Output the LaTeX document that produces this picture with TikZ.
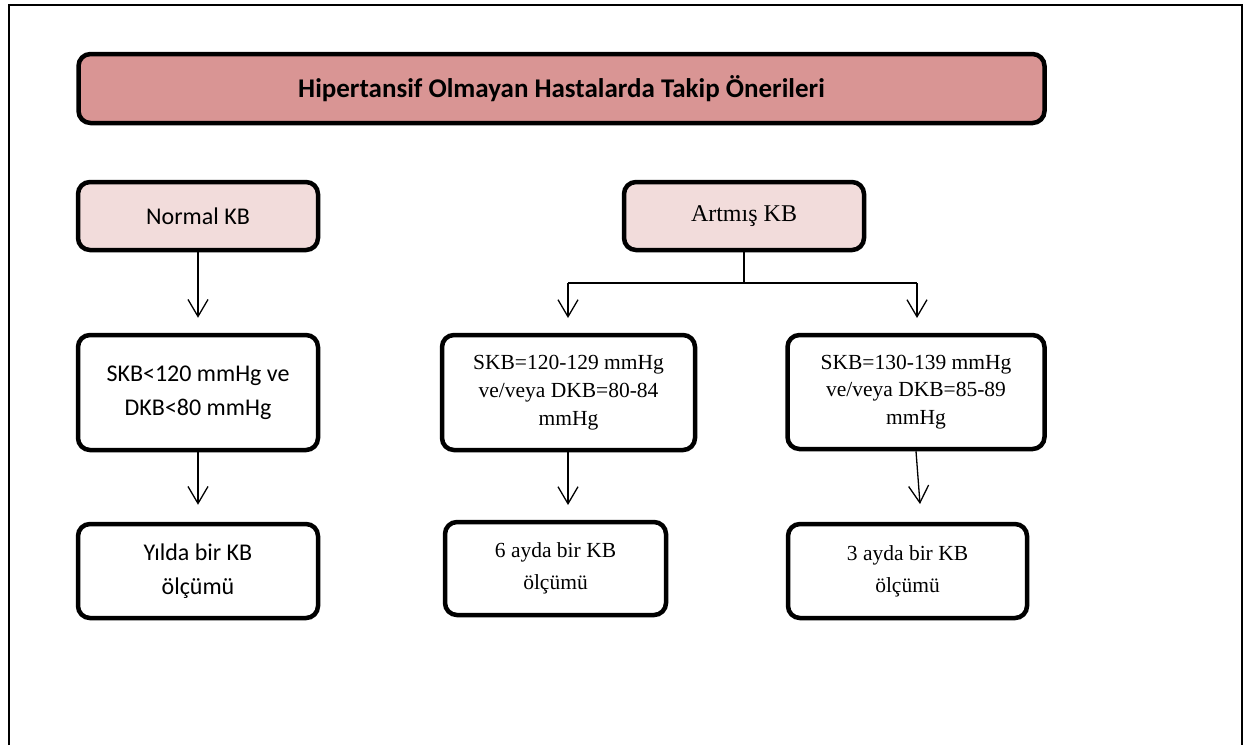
\documentclass[tikz,border=0pt]{standalone}
\usepackage{fontspec}
\setmainfont{Liberation Serif}
\newfontfamily\calfont{Carlito}
\usetikzlibrary{arrows.meta}
\definecolor{titlefill}{HTML}{D99594}
\definecolor{lightfill}{HTML}{F2DCDB}
\begin{document}
\begin{tikzpicture}[x=1pt,y=-1pt,
  box/.style={draw, line width=4.5pt, rounded corners=12pt, align=center, inner sep=0pt},
  cal/.style={font=\calfont\fontsize{24}{34}\selectfont},
  tms/.style={font=\fontsize{21.5}{27.7}\selectfont},
  arr/.style={line width=1.3pt, -{Straight Barb[length=17pt,width=20pt,line width=1.3pt]}},
  ln/.style={line width=1.3pt}]
\useasboundingbox (0,0) rectangle (1246,745);
\draw[line width=2pt] (9,745) -- (9,5) -- (1242,5) -- (1242,745);

\node[box, fill=titlefill, minimum width=966pt, minimum height=69pt,
      font=\calfont\bfseries\fontsize{27}{32}\selectfont] (title) at (561.5,88.5)
      {Hipertansif Olmayan Hastalarda Takip Önerileri};

\node[box, cal, fill=lightfill, minimum width=240pt, minimum height=68pt] (nkb) at (198,216) {Normal KB};
\node[box, fill=lightfill, minimum width=240pt, minimum height=68pt,
      font=\fontsize{24}{28}\selectfont] (akb) at (744,216) {Artmış KB};

\node[box, cal, minimum width=240pt, minimum height=115pt] (s1) at (198,392.5) {SKB<120 mmHg ve\\DKB<80 mmHg};
\node[box, tms, minimum width=253pt, minimum height=115pt] (s2) at (568.5,392.5) {SKB=120-129 mmHg\\ve/veya DKB=80-84\\mmHg};
\node[box, tms, minimum width=257pt, minimum height=114pt] (s3) at (916,392) {SKB=130-139 mmHg\\ve/veya DKB=85-89\\mmHg};

\node[box, cal, minimum width=240pt, minimum height=94pt] (r1) at (198,571) {Yılda bir KB\\ölçümü};
\node[box, tms, minimum width=221pt, minimum height=93pt, font=\fontsize{21.5}{32}\selectfont] (r2) at (555.5,568.5) {6 ayda bir KB\\ölçümü};
\node[box, tms, minimum width=239pt, minimum height=94pt, font=\fontsize{21.5}{32}\selectfont] (r3) at (907.5,571) {3 ayda bir KB\\ölçümü};

\coordinate (bl) at (568,283);
\coordinate (br) at (917,283);
\coordinate (t2) at (568,318);
\coordinate (t3) at (917,318);
\coordinate (u2) at (568,505);
\coordinate (u3) at (920,504);

\draw[arr] (nkb.south) -- ([yshift=15pt]s1.north);
\draw[arr] (s1.south) -- ([yshift=17pt]r1.north);
\draw[ln] (akb.south) -- (akb.south |- bl);
\draw[ln] (bl) -- (br);
\draw[arr] (bl) -- (t2);
\draw[arr] (br) -- (t3);
\draw[arr] (s2.south -| u2) -- (u2);
\draw[arr] (s3.south) -- (u3);
\end{tikzpicture}
\end{document}
